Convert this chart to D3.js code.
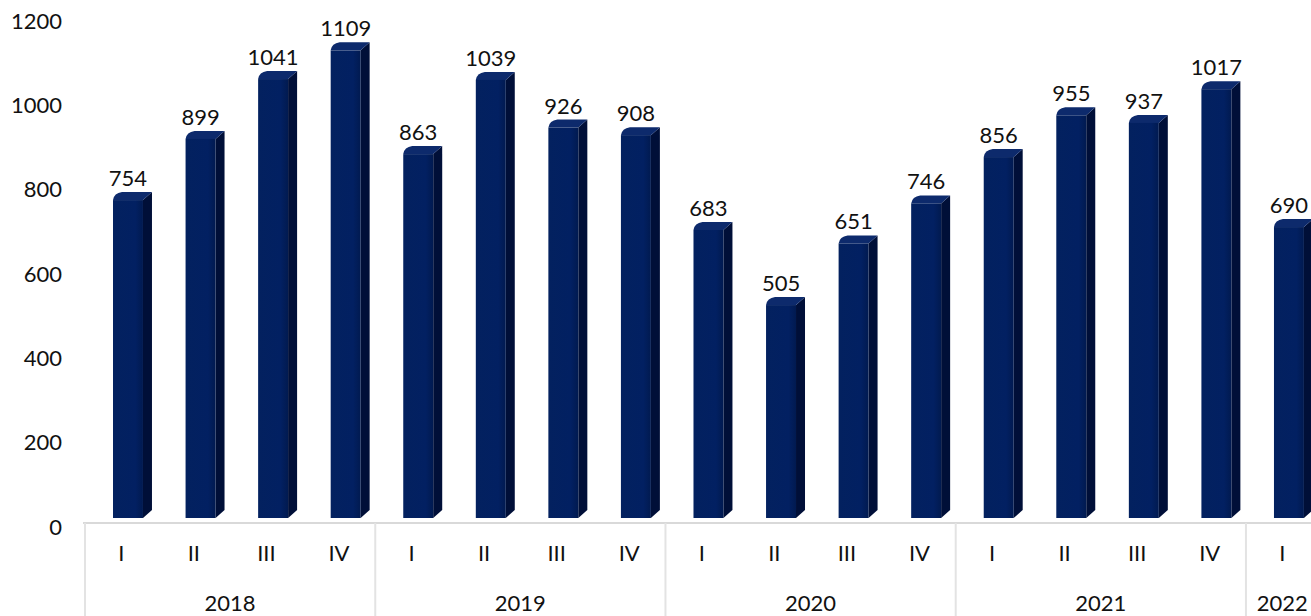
<!DOCTYPE html>
<html>
<head>
<meta charset="utf-8">
<script src="https://cdn.jsdelivr.net/npm/d3@7"></script>
<style>
  html, body { margin: 0; padding: 0; background: #fff; }
  #chart text { font-family: Lato, "Open Sans", sans-serif; font-weight: 400; fill: #111; }
</style>
</head>
<body>
<div id="chart"></div>
<script>
// data
const quarters = ["I", "II", "III", "IV", "I", "II", "III", "IV", "I", "II", "III", "IV", "I", "II", "III", "IV", "I"];
const yearOf = ["2018", "2018", "2018", "2018", "2019", "2019", "2019", "2019", "2020", "2020", "2020", "2020", "2021", "2021", "2021", "2021", "2022"];
const values = [754, 899, 1041, 1109, 863, 1039, 926, 908, 683, 505, 651, 746, 856, 955, 937, 1017, 690];
const years = ["2018", "2019", "2020", "2021", "2022"];
const yTicks = [0, 200, 400, 600, 800, 1000, 1200];

function drawChart() {
    d3.select("#chart").select("svg").remove();

    const width = 1311, height = 616;
    const axisY = 523;      // category axis line
    const depthX = 9, depthY = 8;
    const fontSize = "22px";

    const svg = d3.select("#chart")
        .append("svg")
        .attr("width", width)
        .attr("height", height);

    const defs = svg.append("defs");
    const grad = defs.append("linearGradient")
        .attr("id", "front")
        .attr("x1", "0%").attr("x2", "100%");
    grad.append("stop").attr("offset", "0%").attr("stop-color", "#03215f");
    grad.append("stop").attr("offset", "75%").attr("stop-color", "#022062");
    grad.append("stop").attr("offset", "100%").attr("stop-color", "#011a50");

    // Scales
    const x = d3.scaleBand()
        .domain(d3.range(values.length))
        .range([85, 85 + values.length * 72.56])
        .padding(0);

    const y = d3.scaleLinear()
        .domain([0, 1200])
        .range([518, 12]);

    const bw = x.bandwidth();
    const faceOff = bw * 0.386;
    const faceW = bw * 0.413;

    // Y axis labels (no line, no ticks)
    const yAxis = svg.append("g")
        .attr("transform", "translate(62,9)")
        .call(d3.axisLeft(y).tickValues(yTicks).tickFormat(d3.format("d")).tickSize(0).tickPadding(0));
    yAxis.select(".domain").remove();
    yAxis.selectAll("text")
        .style("font-size", fontSize)
        .style("font-family", "Lato, 'Open Sans', sans-serif")
        .style("font-weight", "400")
        .style("fill", "#111");

    // Bars (pseudo 3D)
    const bars = svg.append("g").selectAll("g")
        .data(values)
        .enter()
        .append("g");

    // side face
    bars.append("path")
        .attr("fill", "#000f38")
        .attr("d", (d, i) => {
            const x0 = x(i) + faceOff + faceW;
            const top = y(d), bot = y(0);
            return `M${x0},${top} L${x0 + depthX},${top - depthY} L${x0 + depthX},${bot - depthY} L${x0},${bot} Z`;
        });

    // top face
    bars.append("path")
        .attr("fill", "#0d2a6c")
        .attr("d", (d, i) => {
            const x0 = x(i) + faceOff;
            const top = y(d);
            return `M${x0},${top} Q${x0 + 1},${top - depthY + 1} ${x0 + depthX},${top - depthY} L${x0 + faceW + depthX},${top - depthY} L${x0 + faceW},${top} Z`;
        });

    // front face
    bars.append("rect")
        .attr("x", (d, i) => x(i) + faceOff)
        .attr("y", d => y(d))
        .attr("width", faceW)
        .attr("height", d => y(0) - y(d))
        .attr("fill", "url(#front)");

    // value labels
    bars.append("text")
        .attr("x", (d, i) => x(i) + faceOff + faceW / 2)
        .attr("y", d => y(d) - 14)
        .attr("text-anchor", "middle")
        .style("font-size", fontSize)
        .text(d => d);

    // category axis line
    svg.append("line")
        .attr("x1", 83).attr("x2", width)
        .attr("y1", axisY).attr("y2", axisY)
        .attr("stroke", "#d9d9d9")
        .attr("stroke-width", 2);

    // quarter labels
    svg.append("g").selectAll("text")
        .data(quarters)
        .enter()
        .append("text")
        .attr("x", (d, i) => x(i) + bw / 2)
        .attr("y", 553)
        .attr("dy", "0.35em")
        .attr("text-anchor", "middle")
        .style("font-size", fontSize)
        .text(d => d);

    // year groups
    const groups = years.map(yr => {
        const idx = yearOf.map((v, i) => v === yr ? i : -1).filter(i => i >= 0);
        return { year: yr, start: x(idx[0]), end: x(idx[idx.length - 1]) + bw };
    });

    svg.append("g").selectAll("line")
        .data(groups)
        .enter()
        .append("line")
        .attr("x1", d => d.start).attr("x2", d => d.start)
        .attr("y1", axisY).attr("y2", height)
        .attr("stroke", "#e3e3e3")
        .attr("stroke-width", 2);

    svg.append("g").selectAll("text")
        .data(groups)
        .enter()
        .append("text")
        .attr("x", d => (d.start + d.end) / 2)
        .attr("y", 603)
        .attr("dy", "0.35em")
        .attr("text-anchor", "middle")
        .style("font-size", fontSize)
        .text(d => d.year);
}

drawChart();
</script>
</body>
</html>
